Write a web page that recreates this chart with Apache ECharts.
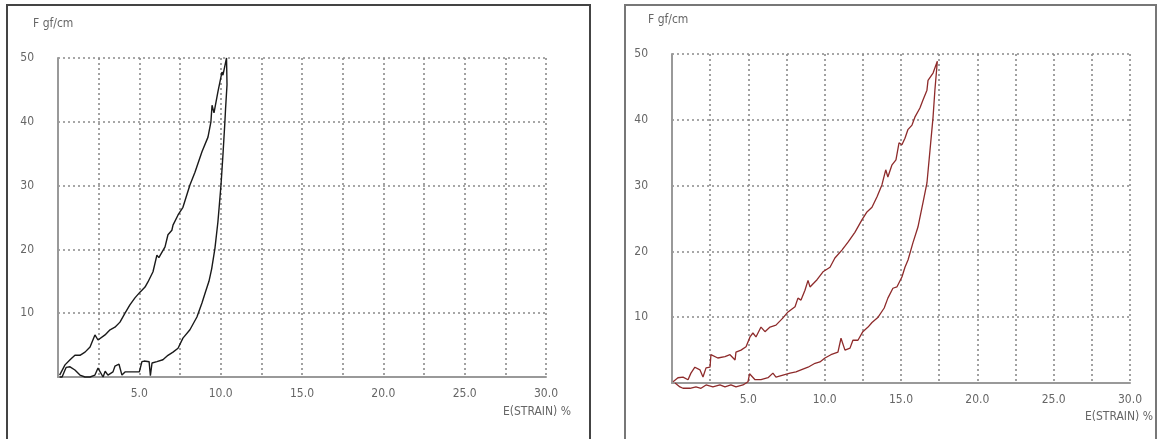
<!DOCTYPE html>
<html>
<head>
<meta charset="utf-8">
<script src="https://cdn.jsdelivr.net/npm/echarts@6/dist/echarts.min.js"></script>
<style>html,body{margin:0;padding:0;background:#fff;}#c{width:1166px;height:439px;}</style>
</head>
<body>
<div id="c"></div>
<script>
// ---- Data ----
const xTickValues = [5, 10, 15, 20, 25, 30];
const yTickValues = [10, 20, 30, 40, 50];
const yAxisTitle = 'F gf/cm';
const xAxisTitle = 'E(STRAIN) %';

// Left specimen: loading branch then unloading branch
const leftStrain = [0.1,0.43,0.74,1.04,1.35,1.66,1.97,2.27,2.46,2.89,3.2,3.5,3.81,4.12,4.42,4.73,5.04,5.35,5.53,5.65,5.84,6.08,6.2,6.58,6.76,7.0,7.07,7.38,7.68,8.11,8.42,8.85,9.22,9.4,9.47,9.59,9.83,10.08,10.14,10.36,
  10.39,10.3,10.26,10.14,10.02,9.92,9.83,9.65,9.45,9.28,9.05,8.85,8.54,8.11,7.68,7.38,7.07,6.76,6.45,6.08,5.78,5.68,5.6,5.3,5.16,5.0,4.92,4.55,4.12,3.93,3.75,3.5,3.38,3.07,2.9,2.77,2.46,2.27,1.97,1.66,1.35,1.04,0.74,0.5,0.43,0.25,0.1];
const leftForce = [0.3,1.9,2.7,3.4,3.4,3.9,4.7,6.6,5.8,6.6,7.4,7.8,8.6,10.0,11.3,12.4,13.3,14.1,14.9,15.2,16.5,19.1,18.7,20.4,22.3,23.0,23.8,25.4,26.6,30.1,32.1,35.3,37.6,40.0,42.6,41.4,44.7,47.8,47.3,50.0,
  45.8,42.0,40.0,34.8,30.1,27.0,24.3,20.2,17.0,15.0,13.2,11.6,9.4,7.4,6.1,4.5,3.9,3.4,2.7,2.4,2.2,0.2,2.4,2.5,2.4,0.8,0.8,0.8,0.8,0.3,2.0,1.7,0.8,0.3,0.9,0.0,1.4,0.3,0.0,0.0,0.3,1.1,1.6,1.5,1.1,0.0,0.0];

// Right specimen: loading branch then unloading branch
const rightStrain = [0.07,0.39,0.72,1.05,1.24,1.5,1.83,2.03,2.23,2.49,2.55,3.0,3.47,3.8,4.13,4.19,4.52,4.85,5.11,5.3,5.5,5.83,6.09,6.42,6.81,7.27,7.6,8.06,8.25,8.45,8.71,8.91,9.04,9.5,9.89,10.35,10.67,11.13,11.53,11.98,12.44,12.77,13.1,13.43,13.75,14.0,14.14,14.4,14.67,14.87,15.06,15.26,15.45,15.72,15.91,16.24,16.44,16.7,16.77,17.1,17.38,
  17.22,17.1,16.9,16.7,16.44,16.11,15.78,15.46,15.26,15.06,14.73,14.47,14.14,13.9,13.5,13.1,12.84,12.5,12.18,11.85,11.66,11.33,11.07,10.87,10.41,10.02,9.69,9.37,8.91,8.45,8.12,7.73,7.27,6.81,6.61,6.29,5.83,5.44,5.08,4.98,4.65,4.19,3.86,3.47,3.14,2.68,2.23,1.9,1.57,1.18,0.72,0.52,0.2];
const rightForce = [0.2,0.8,0.9,0.5,1.5,2.4,2.0,0.9,2.3,2.4,4.3,3.8,4.0,4.3,3.5,4.7,5.0,5.5,7.0,7.6,7.0,8.5,7.8,8.5,8.8,9.9,10.8,11.6,12.9,12.6,14.1,15.6,14.6,15.7,16.9,17.6,19.0,20.2,21.4,22.9,24.8,26.0,26.7,28.3,30.1,32.4,31.3,33.1,33.9,36.5,36.2,37.2,38.5,39.2,40.4,41.8,43.0,44.5,46.0,47.1,48.9,
  44.5,40.4,35.4,30.4,27.4,23.7,21.3,18.7,17.6,16.1,14.6,14.4,12.9,11.4,10.0,9.2,8.5,7.8,6.5,6.5,5.3,5.0,6.8,4.7,4.3,3.8,3.2,3.0,2.4,2.0,1.7,1.5,1.2,0.9,1.5,0.8,0.5,0.5,1.4,0.2,-0.3,-0.6,-0.3,-0.6,-0.3,-0.6,-0.3,-0.8,-0.6,-0.8,-0.8,-0.6,0.0];

// ---- Chart ----
const FONT = "'Liberation Sans Narrow','DejaVu Sans Condensed','Liberation Sans',sans-serif";
const zip = (a, b) => a.map((v, i) => [v, b[i]]);
const gridDots = {show: true, lineStyle: {color: '#8a8a8a', type: [2, 3], width: 1.6}};

function xAxisFor(gi) {
  return {
    gridIndex: gi, type: 'value', min: 0, max: 30, interval: 2.5,
    axisLine: {show: true, onZero: false, lineStyle: {color: '#999', width: 2}},
    axisTick: {show: false},
    splitLine: gridDots,
    axisLabel: {
      color: '#666', fontFamily: FONT, fontSize: 12, margin: 11,
      formatter: v => (xTickValues.indexOf(v) >= 0 ? v.toFixed(1) : '')
    }
  };
}
function yAxisFor(gi) {
  return {
    gridIndex: gi, type: 'value', min: 0, max: 50, interval: 10,
    axisLine: {show: true, onZero: false, lineStyle: {color: '#999', width: 2}},
    axisTick: {show: false},
    splitLine: gridDots,
    axisLabel: {
      color: '#666', fontFamily: FONT, fontSize: 12, margin: 24,
      formatter: v => (yTickValues.indexOf(v) >= 0 ? String(v) : '')
    }
  };
}

const chart = echarts.init(document.getElementById('c'), null, {renderer: 'canvas'});
chart.setOption({
  animation: false,
  backgroundColor: '#fff',
  grid: [
    {left: 58, top: 58, width: 488, height: 319},
    {left: 672, top: 54, width: 458, height: 329}
  ],
  xAxis: [xAxisFor(0), xAxisFor(1)],
  yAxis: [yAxisFor(0), yAxisFor(1)],
  graphic: [
    {type: 'rect', shape: {x: 7, y: 5, width: 583, height: 445}, style: {fill: 'none', stroke: '#444', lineWidth: 2}, silent: true},
    {type: 'rect', shape: {x: 625, y: 5, width: 531, height: 445}, style: {fill: 'none', stroke: '#777', lineWidth: 2}, silent: true},
    {type: 'text', x: 33, y: 18, style: {text: yAxisTitle, fill: '#666', font: '12px ' + FONT}},
    {type: 'text', x: 648, y: 14, style: {text: yAxisTitle, fill: '#666', font: '12px ' + FONT}},
    {type: 'text', x: 571, y: 406, style: {text: xAxisTitle, fill: '#666', font: '12px ' + FONT, align: 'right'}},
    {type: 'text', x: 1153, y: 411, style: {text: xAxisTitle, fill: '#666', font: '12px ' + FONT, align: 'right'}}
  ],
  series: [
    {type: 'line', xAxisIndex: 0, yAxisIndex: 0, data: zip(leftStrain, leftForce), showSymbol: false, clip: false,
     lineStyle: {color: '#1a1a1a', width: 1.4}},
    {type: 'line', xAxisIndex: 1, yAxisIndex: 1, data: zip(rightStrain, rightForce), showSymbol: false, clip: false,
     lineStyle: {color: '#8e2b2b', width: 1.3}}
  ]
});
</script>
</body>
</html>
